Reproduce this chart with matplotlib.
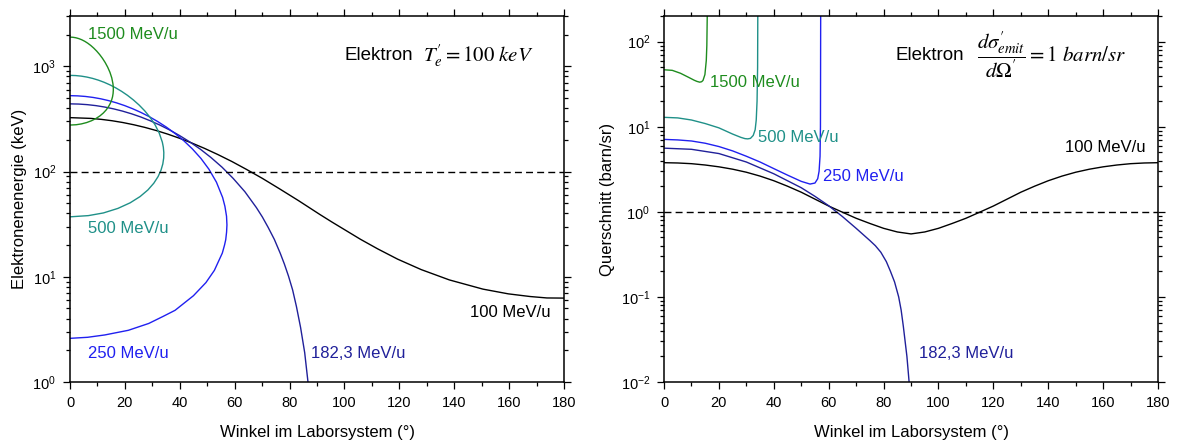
import matplotlib
matplotlib.use("Agg")
import matplotlib.pyplot as plt
from matplotlib.ticker import MultipleLocator, LogLocator, NullFormatter

plt.rcParams['font.family'] = ['Liberation Sans', 'DejaVu Sans']
plt.rcParams['mathtext.fontset'] = 'stix'

# --- left panel: electron energy (keV) vs lab angle (deg) ---
th_100 = [0, 7.61, 11.44, 15.31, 19.22, 23.19, 27.23, 31.36, 35.58, 39.93, 44.40, 49.06,
          53.89, 58.98, 64.32, 70.09, 76.28, 83.19, 91.0, 95.43, 100.39, 105.82, 112.11,
          119.36, 127.94, 138.22, 150.45, 159.69, 167.63, 173.75, 180]
T_100 = [324.9, 319.5, 312.8, 303.6, 292.0, 278.2, 262.6, 245.3, 226.6, 206.8, 186.4, 165.6,
         144.8, 124.4, 104.6, 86.0, 68.6, 53.0, 39.1, 33.1, 27.65, 22.7, 18.4,
         14.7, 11.7, 9.33, 7.63, 6.88, 6.49, 6.29, 6.27]

th_182 = [0, 3.14, 6.3, 9.45, 12.6, 15.85, 19.1, 22.41, 25.8, 29.2, 32.7, 36.26, 39.9,
          43.64, 47.5, 51.38, 55.4, 59.46, 63.7, 67.9, 70.07, 72.2, 74.44, 76.6, 78.1,
          79.59, 81.1, 82.5, 84.0, 85.5, 86.7, 88.2]
T_182 = [439.2, 437.3, 431.7, 422.5, 409.8, 393.8, 374.9, 353.3, 329.4, 303.6, 276.4, 248.3,
         219.6, 190.9, 162.8, 135.6, 109.8, 85.9, 64.3, 45.4, 37.0, 29.4, 22.65, 16.7, 13.2,
         10.16, 7.5, 5.2, 3.3, 1.9, 1.0, 0.3]

th_250 = [0, 2.79, 5.58, 8.39, 11.22, 14.07, 16.95, 19.87, 22.82, 25.83, 28.88, 31.96,
          35.10, 38.25, 41.43, 44.57, 47.68, 50.63, 53.34, 55.60, 56.43, 57.02, 57.17,
          57.04, 56.73, 56.29, 55.49, 52.59, 49.51, 44.95, 38.27, 33.9, 28.67, 21.25,
          12.66, 6.4, 0]
T_250 = [525.4, 523.1, 516.5, 505.5, 490.4, 471.3, 448.8, 423.1, 394.7, 364.0, 331.7, 298.1,
         264.0, 229.9, 196.3, 164.0, 133.3, 104.9, 79.2, 56.6, 46.7, 37.6, 31.1,
         26.6, 22.5, 20.0, 16.8, 11.5, 8.8, 6.6, 4.8, 4.2, 3.6, 3.1,
         2.8, 2.66, 2.6]

th_500 = [0, 2.05, 4.10, 6.16, 8.23, 10.31, 12.40, 14.52, 16.64, 18.78, 20.93, 23.06, 25.17,
          27.22, 29.17, 30.96, 32.48, 33.63, 33.99, 34.17, 34.12, 33.80, 33.15, 32.08,
          30.52, 28.37, 25.52, 21.90, 17.43, 12.17, 6.69, 0]
T_500 = [818.9, 815.5, 805.6, 789.1, 766.5, 738.1, 704.4, 665.9, 623.5, 577.6, 529.2, 479.0,
         428.0, 377.0, 326.8, 278.4, 232.5, 190.0, 170.3, 151.6, 134.1, 117.9, 103.0, 89.5,
         77.4, 66.8, 57.8, 50.4, 44.6, 40.4, 38.1, 37.1]

th_1500 = [0, 1.07, 2.14, 3.22, 4.30, 5.38, 6.46, 7.55, 8.63, 9.71, 10.78, 11.82, 12.81,
           13.73, 14.55, 15.21, 15.64, 15.75, 15.77, 15.69, 15.49, 15.15, 14.66, 14.00,
           13.17, 12.13, 10.91, 9.47, 7.85, 6.06, 4.12, 2.23, 0]
T_1500 = [1891.5, 1884.6, 1864.0, 1830.1, 1783.3, 1724.6, 1655.0, 1575.6, 1487.7, 1393.0,
          1292.9, 1189.3, 1083.9, 978.5, 874.9, 774.8, 680.1, 635.2, 592.3, 551.4, 512.8,
          476.7, 443.2, 412.4, 384.5, 359.5, 337.8, 319.1, 303.8, 291.8, 283.2, 278.2, 276.3]

# --- right panel: cross section (barn/sr) vs lab angle (deg) ---
thq_100 = [0, 5, 10, 15, 20, 25, 30, 35, 40, 45, 50, 55, 60, 65, 70, 75, 80, 85, 90,
           95, 100, 105, 110, 115, 120, 125, 130, 135, 140, 145, 150, 155, 160, 165, 170,
           175, 180]
q_100 = [3.78, 3.75, 3.68, 3.55, 3.38, 3.17, 2.92, 2.63, 2.32, 2.0, 1.70, 1.41, 1.17, 0.99,
         0.84, 0.73, 0.64, 0.58, 0.55,
         0.58, 0.64, 0.73, 0.84, 0.99, 1.17, 1.41, 1.70, 2.0, 2.32, 2.63, 2.92, 3.17, 3.38,
         3.55, 3.68, 3.75, 3.78]

thq_182 = [0, 10, 20, 30, 40, 50, 55, 60, 65, 70, 75, 77, 79, 81, 82.5, 84, 85.5, 86.4,
           87.2, 88.5, 89.3, 89.8]
q_182 = [5.6, 5.43, 4.84, 3.85, 2.8, 1.92, 1.52, 1.18, 0.88, 0.64, 0.46, 0.40, 0.335, 0.26,
         0.2, 0.15, 0.1, 0.07, 0.045, 0.02, 0.01, 0.005]

thq_250 = [0, 5, 10, 15, 20, 25, 30, 35, 40, 45, 50, 53.2, 55, 56, 56.5, 56.85, 57.0, 57.1]
q_250 = [7.1, 7.0, 6.8, 6.4, 5.85, 5.2, 4.5, 3.85, 3.22, 2.7, 2.28, 2.12, 2.18, 2.45, 3.0,
         4.5, 10, 400]

thq_500 = [0, 5, 10, 15, 20, 25, 28, 29.5, 30.5, 31.5, 32.5, 33.2, 33.6, 33.9, 34.1, 34.2]
q_500 = [12.9, 12.7, 12.0, 10.9, 9.7, 8.2, 7.5, 7.25, 7.2, 7.3, 7.9, 9.2, 12, 20, 50, 400]

thq_1500 = [0, 3, 6, 9, 11, 12, 13, 13.7, 14.2, 14.9, 15.4, 15.6, 15.75, 15.8]
q_1500 = [46.7, 46, 42.5, 38, 35.2, 34.1, 33.4, 33.8, 35, 41, 60, 90, 200, 500]

c_100 = 'black'
c_182 = '#20209a'
c_250 = '#2020f0'
c_500 = '#1f9088'
c_1500 = '#1e8c1e'

fig = plt.figure(figsize=(11.83, 4.44), dpi=100)
ax1 = fig.add_axes([0.0592, 0.1396, 0.4176, 0.8243])
ax2 = fig.add_axes([0.5613, 0.1396, 0.4176, 0.8243])

lw = 1.0
ax1.plot(th_100, T_100, color=c_100, lw=lw)
ax1.plot(th_182, T_182, color=c_182, lw=lw)
ax1.plot(th_250, T_250, color=c_250, lw=lw)
ax1.plot(th_500, T_500, color=c_500, lw=lw)
ax1.plot(th_1500, T_1500, color=c_1500, lw=lw)
ax1.axhline(100, color='k', lw=1.0, ls=(0, (5, 3)))

ax2.plot(thq_100, q_100, color=c_100, lw=lw)
ax2.plot(thq_182, q_182, color=c_182, lw=lw)
ax2.plot(thq_250, q_250, color=c_250, lw=lw)
ax2.plot(thq_500, q_500, color=c_500, lw=lw)
ax2.plot(thq_1500, q_1500, color=c_1500, lw=lw)
ax2.axhline(1, color='k', lw=1.0, ls=(0, (5, 3)))

for ax in (ax1, ax2):
    ax.set_yscale('log')
    ax.set_xlim(0, 180)
    ax.xaxis.set_major_locator(MultipleLocator(20))
    ax.xaxis.set_minor_locator(MultipleLocator(10))
    ax.yaxis.set_major_locator(LogLocator(base=10, numticks=20))
    ax.yaxis.set_minor_locator(LogLocator(base=10, subs=range(2, 10), numticks=20))
    ax.yaxis.set_minor_formatter(NullFormatter())
    ax.tick_params(which='both', direction='out', top=True, right=True,
                   labelsize=10.5, width=0.9, color='k')
    ax.tick_params(which='major', length=5, pad=5)
    ax.tick_params(which='minor', length=3)
    for sp in ax.spines.values():
        sp.set_linewidth(1.1)
    ax.set_xlabel('Winkel im Laborsystem (°)', fontsize=12, labelpad=11)

ax1.set_ylim(1, 3000)
ax2.set_ylim(0.01, 200)
ax1.set_ylabel('Elektronenenergie (keV)', fontsize=12)
ax2.set_ylabel('Querschnitt (barn/sr)', fontsize=12)

fs = 12
ax1.text(6.6, 2018, '1500 MeV/u', color=c_1500, fontsize=fs, va='center')
ax1.text(6.6, 28.6, '500 MeV/u', color=c_500, fontsize=fs, va='center')
ax1.text(6.6, 1.85, '250 MeV/u', color=c_250, fontsize=fs, va='center')
ax1.text(87.8, 1.85, '182,3 MeV/u', color=c_182, fontsize=fs, va='center')
ax1.text(145.8, 4.54, '100 MeV/u', color=c_100, fontsize=fs, va='center')
ax1.text(0.555, 0.893, 'Elektron', transform=ax1.transAxes, fontsize=13.5, va='center')
ax1.text(0.7146, 0.893, r"$T_{e}^{\prime} = 100\ keV$", transform=ax1.transAxes,
         fontsize=15, va='center')

ax2.text(16.8, 33.1, '1500 MeV/u', color=c_1500, fontsize=fs, va='center')
ax2.text(34.1, 7.54, '500 MeV/u', color=c_500, fontsize=fs, va='center')
ax2.text(57.9, 2.57, '250 MeV/u', color=c_250, fontsize=fs, va='center')
ax2.text(92.9, 0.0218, '182,3 MeV/u', color=c_182, fontsize=fs, va='center')
ax2.text(146.1, 5.75, '100 MeV/u', color=c_100, fontsize=fs, va='center')
ax2.text(0.468, 0.893, 'Elektron', transform=ax2.transAxes, fontsize=13.5, va='center')
ax2.text(0.6336, 0.893, r"$\dfrac{d\sigma_{emit}^{\prime}}{d\Omega^{\prime}} = 1\ barn/sr$",
         transform=ax2.transAxes, fontsize=15, va='center')

fig.savefig('out.png', dpi=100)
